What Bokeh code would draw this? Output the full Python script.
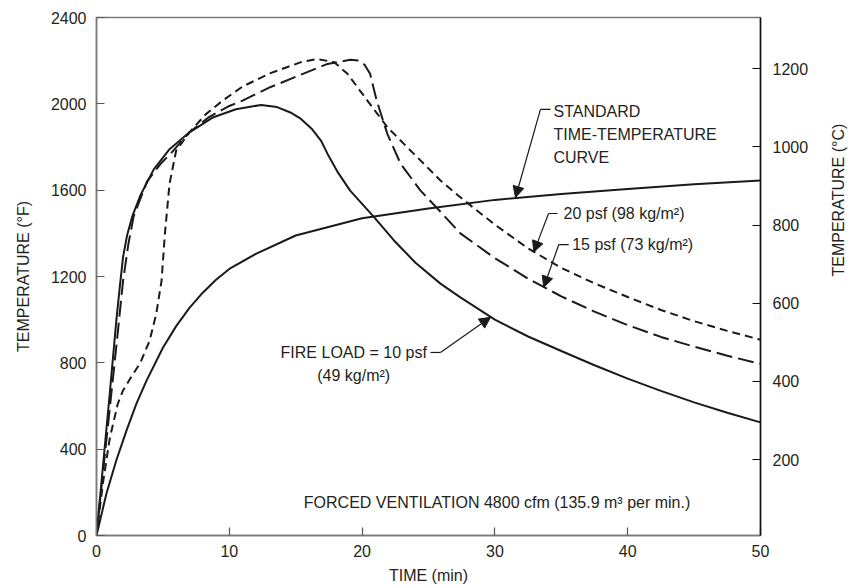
import math
from bokeh.plotting import figure
from bokeh.models import (Range1d, LinearAxis, FixedTicker, Label, Arrow, NormalHead)
from bokeh.embed import file_html
from bokeh.resources import INLINE

# ---- data (time in min, temperature in °F) ----
std_t = [0, 0.75, 1.5, 2.25, 3, 3.75, 5, 6.0, 7.0, 8.0, 9.0, 10, 12, 15, 20, 25, 30, 35, 40, 45, 50]
std_T = [0, 195, 350, 485, 610, 715, 870, 970, 1055, 1125, 1185, 1235, 1305, 1390, 1470, 1515, 1555, 1582, 1605, 1627, 1645]

f10_t = [0, 0.5, 1.0, 1.5, 1.75, 2.0, 2.3, 2.7, 3.3, 4.3, 5.5, 7.0, 8.8, 10.5, 12.4, 13.6, 14.6, 15.4, 16.2, 16.9, 17.4,
         18.2, 19.1, 20.9, 22.4, 24.0, 25.9, 27.4, 30, 32.5, 35, 37.5, 40, 42.5, 45, 47.5, 50]
f10_T = [0, 330, 660, 1000, 1150, 1290, 1390, 1480, 1575, 1695, 1790, 1868, 1938, 1975, 1995, 1985, 1960, 1930, 1885, 1830, 1768,
         1680, 1598, 1475, 1367, 1265, 1167, 1103, 1000, 922, 855, 789, 727, 670, 617, 569, 524]

f15_t = [0, 0.5, 1.0, 1.5, 2.0, 2.4, 2.8, 3.8, 4.8, 5.8, 7.0, 8.5, 10, 11, 13, 15.4, 17.4, 19.1, 19.8, 20.2, 20.6,
         21.1, 21.9, 22.9, 24.4, 25.9, 27.4, 30, 32.5, 35, 37.5, 40, 42.5, 45, 47.5, 50]
f15_T = [0, 300, 590, 880, 1180, 1350, 1480, 1640, 1720, 1784, 1868, 1940, 1990, 2015, 2075, 2135, 2185, 2204, 2200, 2180, 2139,
         2015, 1861, 1722, 1598, 1500, 1400, 1285, 1190, 1108, 1037, 975, 920, 875, 833, 795]

f20_t = [0, 0.5, 1.0, 1.25, 1.6, 2.0, 2.6, 3.3, 4.0, 4.5, 4.9, 5.15, 5.5, 6.0, 7.0, 8.2, 9.5, 11, 13, 15.4, 16.6,
         17.9, 18.9, 20.4, 21.9, 23.9, 25.9, 27.4, 30, 32.5, 35, 37.5, 40, 42.5, 45, 47.5, 50]
f20_T = [0, 250, 450, 517, 610, 672, 733, 800, 903, 1027, 1181, 1398, 1630, 1784, 1868, 1950, 2015, 2080, 2140, 2193, 2208,
         2193, 2139, 2015, 1892, 1768, 1645, 1567, 1440, 1330, 1240, 1168, 1105, 1045, 993, 948, 907]

x_ticks = [0, 10, 20, 30, 40, 50]
yF_ticks = [0, 400, 800, 1200, 1600, 2000, 2400]
yC_ticks = [200, 400, 600, 800, 1000, 1200]

FONT = "Liberation Sans"
TXT = "#231f20"
FS = "16px"

p = figure(frame_width=664, frame_height=518, min_border_left=96, min_border_right=92,
           min_border_top=17, min_border_bottom=53,
           x_range=Range1d(0, 50), y_range=Range1d(0, 2400),
           output_backend="svg", toolbar_location=None,
           x_axis_label="TIME (min)", y_axis_label="TEMPERATURE (°F)")
p.extra_y_ranges = {"c": Range1d(6, 1331)}
p.grid.visible = False
p.outline_line_color = "#7a7a7a"
p.outline_line_width = 1.5
p.background_fill_color = "white"
p.border_fill_color = "white"

rax = LinearAxis(y_range_name="c", axis_label="TEMPERATURE (°C)")
p.add_layout(rax, "right")

for ax in [p.xaxis[0], p.yaxis[0], rax]:
    ax.major_tick_in = 8
    ax.major_tick_out = 0
    ax.minor_tick_line_color = None
    ax.axis_line_color = "#7a7a7a"
    ax.axis_line_width = 1.5
    ax.major_tick_line_color = "#555555"
    ax.major_tick_line_width = 1.2
    ax.major_label_text_font = FONT
    ax.major_label_text_font_size = FS
    ax.major_label_text_color = TXT
    ax.axis_label_text_font = FONT
    ax.axis_label_text_font_size = FS
    ax.axis_label_text_font_style = "normal"
    ax.axis_label_text_color = TXT

rax.axis_line_color = "#111111"
rax.major_tick_line_color = "#111111"
rax.axis_label_orientation = math.pi / 2

p.xaxis[0].ticker = FixedTicker(ticks=x_ticks)
p.yaxis[0].ticker = FixedTicker(ticks=yF_ticks)
rax.ticker = FixedTicker(ticks=yC_ticks)

p.xaxis[0].major_label_standoff = 9
p.xaxis[0].axis_label_standoff = 7
p.yaxis[0].major_label_standoff = 10
p.yaxis[0].axis_label_standoff = 16
rax.major_label_standoff = 12
rax.axis_label_standoff = 27

LC = "#1a1a1a"
p.line(std_t, std_T, line_color=LC, line_width=2)
p.line(f10_t, f10_T, line_color=LC, line_width=2)
p.line(f15_t, f15_T, line_color=LC, line_width=2, line_dash="16 6")
p.line(f20_t, f20_T, line_color=LC, line_width=2, line_dash="8 5")

# ---- annotations ----
def label(x, y, text, align="left"):
    p.add_layout(Label(x=x, y=y, text=text, text_font=FONT, text_font_size=FS,
                       text_color=TXT, text_align=align, text_baseline="middle"))

def leader(xh0, xh1, yh, xt, yt):
    p.line([xh0, xh1], [yh, yh], line_color=LC, line_width=1.2)
    p.add_layout(Arrow(x_start=xh1, y_start=yh, x_end=xt, y_end=yt, line_color=LC, line_width=1.2,
                       end=NormalHead(size=11, fill_color=LC, line_color=LC, line_width=1)))

label(34.41, 1964, "STANDARD")
label(34.41, 1858, "TIME-TEMPERATURE")
label(34.41, 1751, "CURVE")
leader(34.19, 33.43, 1974, 31.55, 1566)

label(35.17, 1492, "20 psf (98 kg/m²)")
leader(34.71, 34.04, 1492, 32.93, 1313)

label(35.82, 1348, "15 psf (73 kg/m²)")
leader(35.56, 34.81, 1348, 33.68, 1150)

label(19.37, 848, "FIRE LOAD = 10 psf", align="center")
label(19.37, 741, "(49 kg/m²)", align="center")
leader(25.15, 25.9, 848, 29.67, 1011)

label(15.61, 153, "FORCED VENTILATION 4800 cfm (135.9 m³ per min.)")

open("out.html", "w").write(file_html(p, INLINE))
